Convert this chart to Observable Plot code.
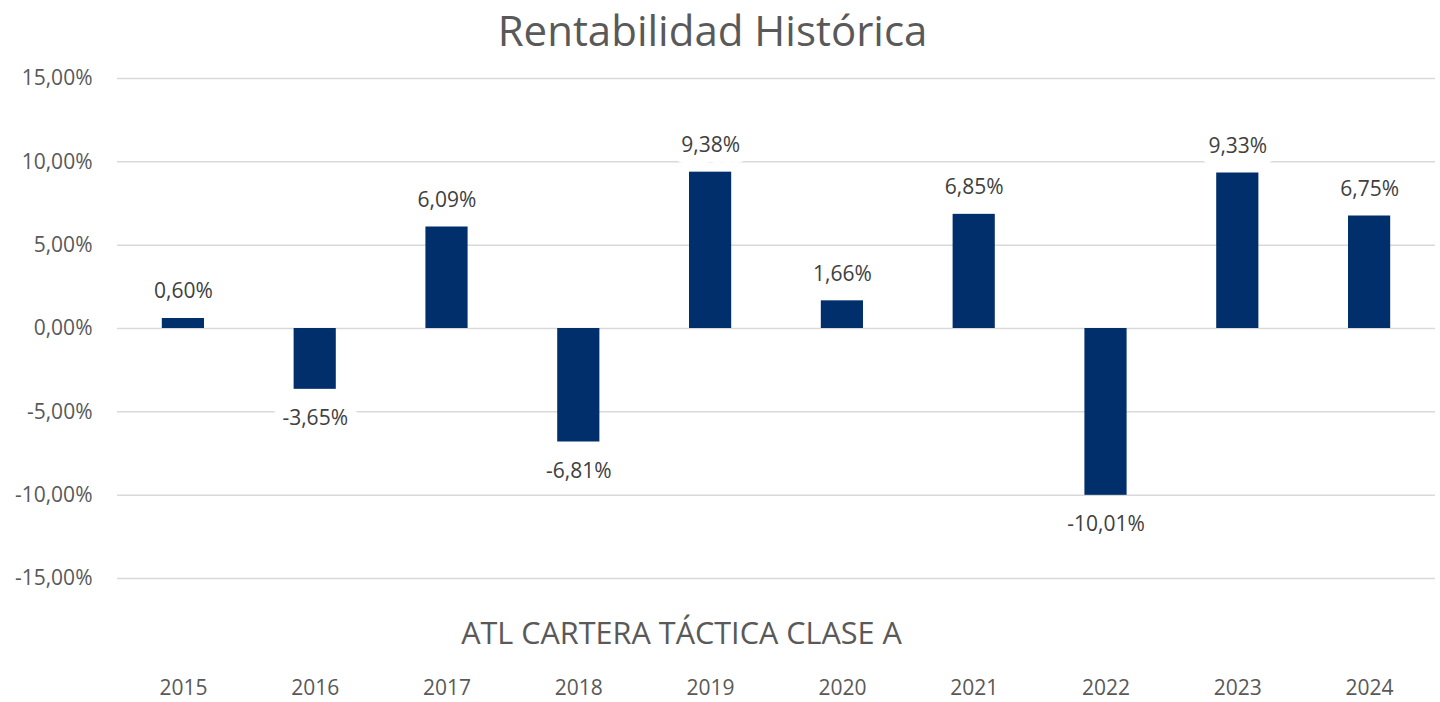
<!DOCTYPE html>
<html>
<head>
<meta charset="utf-8">
<script src="https://cdn.jsdelivr.net/npm/d3@7"></script>
<script src="https://cdn.jsdelivr.net/npm/@observablehq/plot@0.6"></script>
<style>
  html, body { margin: 0; padding: 0; background: #fff; }
</style>
</head>
<body>
<div id="chart"></div>
<script>
const years = ["2015","2016","2017","2018","2019","2020","2021","2022","2023","2024"];
const returns = [0.60, -3.65, 6.09, -6.81, 9.38, 1.66, 6.85, -10.01, 9.33, 6.75];
const yTicks = [-15, -10, -5, 0, 5, 10, 15];
const title = "Rentabilidad Histórica";
const seriesName = "ATL CARTERA TÁCTICA CLASE A";

const data = years.map((y, i) => ({year: y, value: returns[i]}));
const fmt = v => v.toFixed(2).replace(".", ",") + "%";

const chart = Plot.plot({
  width: 1440,
  height: 702,
  marginTop: 78,
  marginBottom: 124,
  marginLeft: 117,
  marginRight: 5,
  style: {fontFamily: "'Open Sans', sans-serif", background: "white"},
  x: {domain: years, paddingInner: 0.68, paddingOuter: 0.34, round: false, axis: null, label: null},
  y: {domain: [-15, 15], axis: null, label: null},
  marks: [
    Plot.gridY(yTicks, {stroke: "#d9d9d9", strokeOpacity: 1, strokeWidth: 1.5}),
    Plot.axisY(yTicks, {tickSize: 0, tickPadding: 25, tickFormat: fmt, fontSize: 21, fill: "#595959", label: null}),
    Plot.barY(data, {x: "year", y: "value", fill: "#002f6c"}),
    Plot.text(data.filter(d => d.value >= 0), {x: "year", y: "value", text: d => fmt(d.value), dy: -27, lineAnchor: "middle", fontSize: 21, fill: "#404040", stroke: "white", strokeWidth: 22, paintOrder: "stroke"}),
    Plot.text(data.filter(d => d.value < 0), {x: "year", y: "value", text: d => fmt(d.value), dy: 29, lineAnchor: "middle", fontSize: 21, fill: "#404040", stroke: "white", strokeWidth: 22, paintOrder: "stroke"}),
    Plot.axisX(years, {tickSize: 0, tickPadding: 102, fontSize: 21, fill: "#595959", label: null}),
    Plot.text([title], {frameAnchor: "top", lineAnchor: "middle", dy: -46, dx: -64, fontSize: 42, fill: "#595959"}),
    Plot.text([seriesName], {frameAnchor: "bottom", lineAnchor: "middle", dy: 56, dx: -95, fontSize: 30.6, fill: "#595959"})
  ]
});
document.getElementById("chart").appendChild(chart);
</script>
</body>
</html>
